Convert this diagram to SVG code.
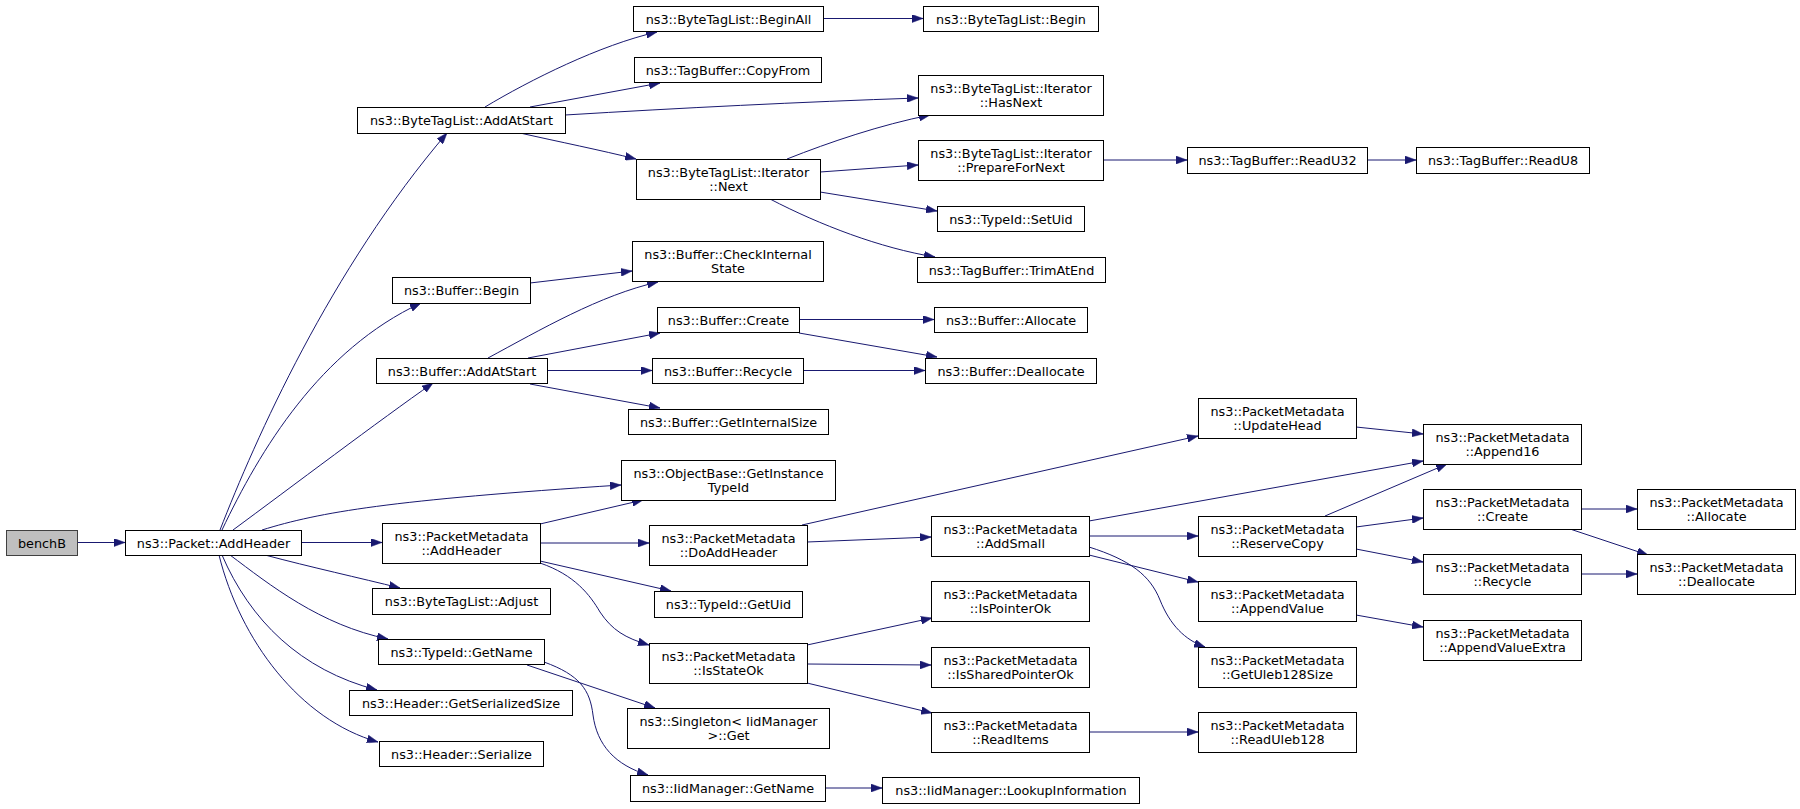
<svg xmlns="http://www.w3.org/2000/svg" width="1800" height="809" viewBox="0 0 1800 809">
<style>
.n rect{fill:#fff;stroke:#000;stroke-width:1}
.n.root rect{fill:#bfbfbf;stroke:#404040}
.n text{font-family:"DejaVu Sans","Liberation Sans",sans-serif;font-size:12.8px;text-anchor:middle;fill:#000}
.e path{fill:none;stroke:#191970;stroke-width:1;marker-end:url(#a)}
</style>
<defs>
<marker id="a" viewBox="0 0 11 8" refX="11" refY="4" markerWidth="11" markerHeight="8" orient="auto" markerUnits="userSpaceOnUse">
<path d="M0,0 L11,4 L0,8 z" fill="#191970" stroke="#191970" stroke-width="0.5"/>
</marker>
</defs>
<rect width="1800" height="809" fill="#fff"/>
<g id="connectors" class="e">
<path d="M77,542.5 L125,542.5"/>
<path d="M220,530 C255,440 330,270 447,133"/>
<path d="M222,530 C260,450 320,350 421,303"/>
<path d="M233,530 C290,488 380,420 433,383"/>
<path d="M262,530 C320,512 390,500 621,485"/>
<path d="M301,542.5 L382,542.5"/>
<path d="M265,555 C310,567 360,578 400,588"/>
<path d="M230,555 C270,585 320,625 388,639"/>
<path d="M222,555 C250,620 300,670 377,690"/>
<path d="M219,555 C240,640 300,720 378,742"/>
<path d="M485,107 C530,80 600,45 657,32"/>
<path d="M530,107 L660,83"/>
<path d="M565,115 C680,108 800,102 918,98"/>
<path d="M520,133 C560,142 600,150 636,159"/>
<path d="M787,159 C830,142 880,125 930,115"/>
<path d="M820,172 L918,165"/>
<path d="M820,192 L937,211"/>
<path d="M770,199 C820,225 880,248 935,257"/>
<path d="M823,18.5 L923,18.5"/>
<path d="M1103,160 L1187,160"/>
<path d="M1367,160 L1416,160"/>
<path d="M530,283 L632,271"/>
<path d="M488,358 C540,330 600,295 658,282"/>
<path d="M528,358 L660,333"/>
<path d="M547,370.5 L652,370.5"/>
<path d="M530,384 L660,408"/>
<path d="M799,319.5 L934,319.5"/>
<path d="M799,333 L937,357"/>
<path d="M803,370.5 L925,370.5"/>
<path d="M540,524 L643,500"/>
<path d="M540,543 L649,543"/>
<path d="M540,561 L671,591"/>
<path d="M540,563 C575,575 590,595 600,612 C612,630 625,638 649,645"/>
<path d="M527,665 L655,708"/>
<path d="M544,662 C580,675 590,690 593,715 C597,745 615,765 648,775"/>
<path d="M825,788 L882,788"/>
<path d="M802,525 L1198,436"/>
<path d="M807,542 L931,537"/>
<path d="M1089,521 L1423,461"/>
<path d="M1089,536 L1198,536"/>
<path d="M1089,555 L1198,582"/>
<path d="M1089,547 C1130,560 1150,575 1160,600 C1170,625 1185,640 1205,647"/>
<path d="M1356,427 L1423,434"/>
<path d="M1325,516 L1447,464"/>
<path d="M1356,527 L1423,518"/>
<path d="M1356,549 L1423,562"/>
<path d="M1356,615 L1423,627"/>
<path d="M1089,732 L1198,732"/>
<path d="M807,645 L932,618"/>
<path d="M807,664 L931,665"/>
<path d="M807,683 L932,713"/>
<path d="M1581,509 L1637,509"/>
<path d="M1570,529 L1648,555"/>
<path d="M1581,574 L1637,574"/>
</g>
<g id="n1" class="n root"><rect x="6.5" y="530.5" width="71" height="25"/><text x="42" y="547.5">benchB</text></g>
<g id="n2" class="n"><rect x="125.5" y="530.5" width="176" height="25"/><text x="213.5" y="547.5">ns3::Packet::AddHeader</text></g>
<g id="n3" class="n"><rect x="357.5" y="107.5" width="208" height="26"/><text x="461.5" y="125">ns3::ByteTagList::AddAtStart</text></g>
<g id="n4" class="n"><rect x="392.5" y="277.5" width="138" height="26"/><text x="461.5" y="295">ns3::Buffer::Begin</text></g>
<g id="n5" class="n"><rect x="376.5" y="358.5" width="171" height="25"/><text x="462" y="375.5">ns3::Buffer::AddAtStart</text></g>
<g id="n6" class="n"><rect x="382.5" y="523.5" width="158" height="40"/><text x="461.5" y="540.5">ns3::PacketMetadata</text><text x="461.5" y="554.5">::AddHeader</text></g>
<g id="n7" class="n"><rect x="372.5" y="588.5" width="178" height="26"/><text x="461.5" y="606">ns3::ByteTagList::Adjust</text></g>
<g id="n8" class="n"><rect x="378.5" y="639.5" width="166" height="25"/><text x="461.5" y="656.5">ns3::TypeId::GetName</text></g>
<g id="n9" class="n"><rect x="349.5" y="690.5" width="223" height="25"/><text x="461" y="707.5">ns3::Header::GetSerializedSize</text></g>
<g id="n10" class="n"><rect x="379.5" y="741.5" width="164" height="25"/><text x="461.5" y="758.5">ns3::Header::Serialize</text></g>
<g id="n11" class="n"><rect x="633.5" y="6.5" width="190" height="25"/><text x="728.5" y="23.5">ns3::ByteTagList::BeginAll</text></g>
<g id="n12" class="n"><rect x="634.5" y="57.5" width="187" height="25"/><text x="728" y="74.5">ns3::TagBuffer::CopyFrom</text></g>
<g id="n13" class="n"><rect x="636.5" y="159.5" width="184" height="40"/><text x="728.5" y="176.5">ns3::ByteTagList::Iterator</text><text x="728.5" y="190.5">::Next</text></g>
<g id="n14" class="n"><rect x="632.5" y="241.5" width="191" height="40"/><text x="728" y="258.5">ns3::Buffer::CheckInternal</text><text x="728" y="272.5">State</text></g>
<g id="n15" class="n"><rect x="657.5" y="307.5" width="142" height="25"/><text x="728.5" y="324.5">ns3::Buffer::Create</text></g>
<g id="n16" class="n"><rect x="652.5" y="358.5" width="151" height="25"/><text x="728" y="375.5">ns3::Buffer::Recycle</text></g>
<g id="n17" class="n"><rect x="628.5" y="409.5" width="200" height="25"/><text x="728.5" y="426.5">ns3::Buffer::GetInternalSize</text></g>
<g id="n18" class="n"><rect x="621.5" y="460.5" width="214" height="40"/><text x="728.5" y="477.5">ns3::ObjectBase::GetInstance</text><text x="728.5" y="491.5">TypeId</text></g>
<g id="n19" class="n"><rect x="649.5" y="525.5" width="158" height="40"/><text x="728.5" y="542.5">ns3::PacketMetadata</text><text x="728.5" y="556.5">::DoAddHeader</text></g>
<g id="n20" class="n"><rect x="654.5" y="591.5" width="148" height="26"/><text x="728.5" y="609">ns3::TypeId::GetUid</text></g>
<g id="n21" class="n"><rect x="649.5" y="643.5" width="158" height="40"/><text x="728.5" y="660.5">ns3::PacketMetadata</text><text x="728.5" y="674.5">::IsStateOk</text></g>
<g id="n22" class="n"><rect x="627.5" y="708.5" width="202" height="40"/><text x="728.5" y="725.5">ns3::Singleton&lt; IidManager</text><text x="728.5" y="739.5">&gt;::Get</text></g>
<g id="n23" class="n"><rect x="630.5" y="775.5" width="195" height="26"/><text x="728" y="793">ns3::IidManager::GetName</text></g>
<g id="n24" class="n"><rect x="923.5" y="6.5" width="175" height="25"/><text x="1011" y="23.5">ns3::ByteTagList::Begin</text></g>
<g id="n25" class="n"><rect x="918.5" y="75.5" width="185" height="40"/><text x="1011" y="92.5">ns3::ByteTagList::Iterator</text><text x="1011" y="106.5">::HasNext</text></g>
<g id="n26" class="n"><rect x="918.5" y="140.5" width="185" height="40"/><text x="1011" y="157.5">ns3::ByteTagList::Iterator</text><text x="1011" y="171.5">::PrepareForNext</text></g>
<g id="n27" class="n"><rect x="937.5" y="206.5" width="147" height="25"/><text x="1011" y="223.5">ns3::TypeId::SetUid</text></g>
<g id="n28" class="n"><rect x="917.5" y="257.5" width="188" height="25"/><text x="1011.5" y="274.5">ns3::TagBuffer::TrimAtEnd</text></g>
<g id="n29" class="n"><rect x="934.5" y="307.5" width="153" height="25"/><text x="1011" y="324.5">ns3::Buffer::Allocate</text></g>
<g id="n30" class="n"><rect x="925.5" y="358.5" width="171" height="25"/><text x="1011" y="375.5">ns3::Buffer::Deallocate</text></g>
<g id="n31" class="n"><rect x="931.5" y="516.5" width="158" height="40"/><text x="1010.5" y="533.5">ns3::PacketMetadata</text><text x="1010.5" y="547.5">::AddSmall</text></g>
<g id="n32" class="n"><rect x="931.5" y="581.5" width="158" height="40"/><text x="1010.5" y="598.5">ns3::PacketMetadata</text><text x="1010.5" y="612.5">::IsPointerOk</text></g>
<g id="n33" class="n"><rect x="931.5" y="647.5" width="158" height="40"/><text x="1010.5" y="664.5">ns3::PacketMetadata</text><text x="1010.5" y="678.5">::IsSharedPointerOk</text></g>
<g id="n34" class="n"><rect x="931.5" y="712.5" width="158" height="40"/><text x="1010.5" y="729.5">ns3::PacketMetadata</text><text x="1010.5" y="743.5">::ReadItems</text></g>
<g id="n35" class="n"><rect x="882.5" y="777.5" width="257" height="26"/><text x="1011" y="795">ns3::IidManager::LookupInformation</text></g>
<g id="n36" class="n"><rect x="1187.5" y="147.5" width="180" height="26"/><text x="1277.5" y="165">ns3::TagBuffer::ReadU32</text></g>
<g id="n37" class="n"><rect x="1198.5" y="398.5" width="158" height="40"/><text x="1277.5" y="415.5">ns3::PacketMetadata</text><text x="1277.5" y="429.5">::UpdateHead</text></g>
<g id="n38" class="n"><rect x="1198.5" y="516.5" width="158" height="40"/><text x="1277.5" y="533.5">ns3::PacketMetadata</text><text x="1277.5" y="547.5">::ReserveCopy</text></g>
<g id="n39" class="n"><rect x="1198.5" y="581.5" width="158" height="40"/><text x="1277.5" y="598.5">ns3::PacketMetadata</text><text x="1277.5" y="612.5">::AppendValue</text></g>
<g id="n40" class="n"><rect x="1198.5" y="647.5" width="158" height="40"/><text x="1277.5" y="664.5">ns3::PacketMetadata</text><text x="1277.5" y="678.5">::GetUleb128Size</text></g>
<g id="n41" class="n"><rect x="1198.5" y="712.5" width="158" height="40"/><text x="1277.5" y="729.5">ns3::PacketMetadata</text><text x="1277.5" y="743.5">::ReadUleb128</text></g>
<g id="n42" class="n"><rect x="1416.5" y="147.5" width="173" height="26"/><text x="1503" y="165">ns3::TagBuffer::ReadU8</text></g>
<g id="n43" class="n"><rect x="1423.5" y="424.5" width="158" height="40"/><text x="1502.5" y="441.5">ns3::PacketMetadata</text><text x="1502.5" y="455.5">::Append16</text></g>
<g id="n44" class="n"><rect x="1423.5" y="489.5" width="158" height="40"/><text x="1502.5" y="506.5">ns3::PacketMetadata</text><text x="1502.5" y="520.5">::Create</text></g>
<g id="n45" class="n"><rect x="1423.5" y="554.5" width="158" height="40"/><text x="1502.5" y="571.5">ns3::PacketMetadata</text><text x="1502.5" y="585.5">::Recycle</text></g>
<g id="n46" class="n"><rect x="1423.5" y="620.5" width="158" height="40"/><text x="1502.5" y="637.5">ns3::PacketMetadata</text><text x="1502.5" y="651.5">::AppendValueExtra</text></g>
<g id="n47" class="n"><rect x="1637.5" y="489.5" width="158" height="40"/><text x="1716.5" y="506.5">ns3::PacketMetadata</text><text x="1716.5" y="520.5">::Allocate</text></g>
<g id="n48" class="n"><rect x="1637.5" y="554.5" width="158" height="40"/><text x="1716.5" y="571.5">ns3::PacketMetadata</text><text x="1716.5" y="585.5">::Deallocate</text></g>
</svg>
